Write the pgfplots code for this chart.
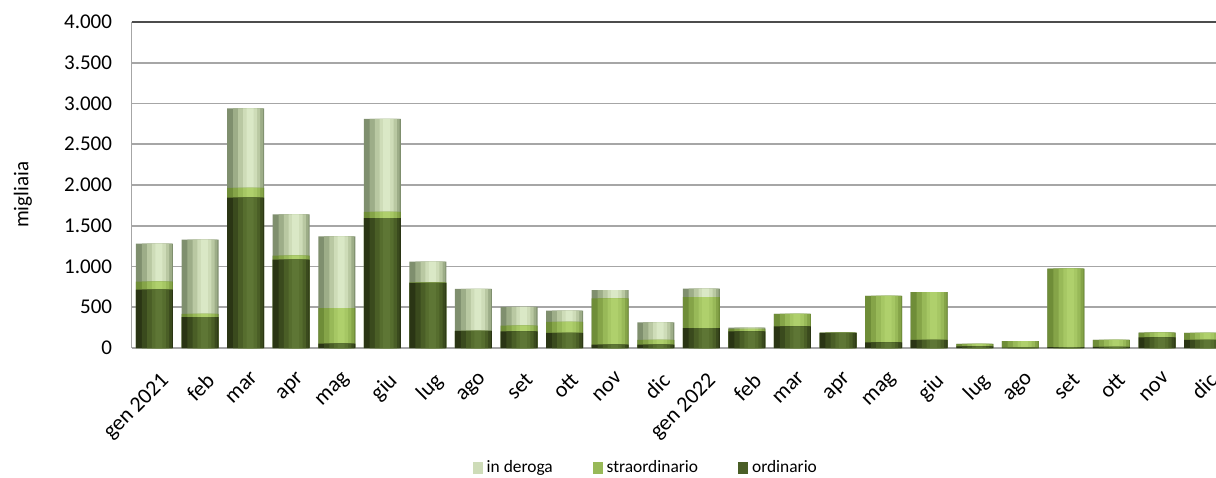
\documentclass[border=0pt]{standalone}
\usepackage{pgfplots}
\pgfplotsset{compat=1.18}
\usepackage{pgfplotstable}
\usepackage{fontspec}
\setmainfont{Carlito}
\definecolor{oA}{HTML}{2A3514}
\definecolor{oB}{HTML}{3A4A1D}
\definecolor{oC}{HTML}{4A5E26}
\definecolor{oD}{HTML}{566D2E}
\definecolor{oE}{HTML}{5E7635}
\definecolor{sA}{HTML}{6F8D38}
\definecolor{sB}{HTML}{85A448}
\definecolor{sC}{HTML}{98B958}
\definecolor{sD}{HTML}{A6C764}
\definecolor{sE}{HTML}{AFD06C}
\definecolor{dA}{HTML}{7F8F6E}
\definecolor{dB}{HTML}{9DAD88}
\definecolor{dC}{HTML}{B9C8A2}
\definecolor{dD}{HTML}{CEDCB8}
\definecolor{dE}{HTML}{DAE8C6}
\definecolor{gridgray}{HTML}{A6A6A6}
\pgfplotstableread{
idx ord str der
0 715 100 465
1 380 40 910
2 1845 120 975
3 1085 50 505
4 55 435 880
5 1595 75 1140
6 800 5 255
7 210 0 515
8 205 70 230
9 185 135 140
10 40 570 100
11 40 60 215
12 245 380 105
13 205 30 15
14 265 155 0
15 185 3 0
16 70 570 0
17 100 585 0
18 20 30 0
19 5 80 0
20 10 965 0
21 15 85 0
22 130 60 0
23 100 85 0
}\datatable
\begin{document}
\begin{tikzpicture}
\path[use as bounding box] (-65.85pt,-64.5pt) rectangle (542.15pt,174pt);
\begin{axis}[
  scale only axis,
  width=546.85pt, height=163pt,
  xmin=-0.5, xmax=23.5, ymin=0, ymax=4000,
  enlarge x limits=false,
  xtick={0,...,23},
  xticklabels={gen 2021,feb,mar,apr,mag,giu,lug,ago,set,ott,nov,dic,gen 2022,feb,mar,apr,mag,giu,lug,ago,set,ott,nov,dic},
  ytick={0,500,...,4000},
  scaled y ticks=false,
  /pgf/number format/1000 sep={.},
  /pgf/number format/assume math mode=true,
  yticklabel style={xshift=-6.3pt, font=\fontsize{10.5}{12}\selectfont},
  xticklabel style={xshift=2.5pt, yshift=-10pt, rotate=45, anchor=north east, inner sep=1pt, font=\fontsize{11}{12}\selectfont},
  major tick length=0pt,
  axis x line*=bottom, axis y line*=left,
  axis line style={draw=gridgray, line width=0.8pt},
  ymajorgrids, grid style={draw=gridgray, line width=0.8pt},
  extra y ticks={4000}, extra y tick labels={},
  extra y tick style={grid style={draw=black!70, line width=1.1pt}},
  every axis y label/.style={at={(axis description cs:-0.0995,0.47)}, rotate=90, anchor=center, font=\fontsize{10.5}{12}\selectfont},
  ylabel={migliaia},
  legend style={at={(axis description cs:0.471,-0.368)}, anchor=center, draw=none, legend columns=-1, font=\fontsize{8.7}{10}\selectfont, /tikz/every even column/.append style={column sep=18pt}},
  legend image code/.code={\path[#1, draw=none] (0pt,-2.8pt) rectangle (5pt,2.8pt);},
  every axis plot/.append style={draw=none, forget plot},
]
% in deroga layer (total height)
\addplot[ybar, bar width=18.5pt, bar shift=0pt, fill=dA] table[x=idx, y expr=\thisrow{ord}+\thisrow{str}+\thisrow{der}] {\datatable};
\addplot[ybar, bar width=15pt, bar shift=1.2pt, fill=dB] table[x=idx, y expr=\thisrow{ord}+\thisrow{str}+\thisrow{der}] {\datatable};
\addplot[ybar, bar width=11pt, bar shift=1.8pt, fill=dC] table[x=idx, y expr=\thisrow{ord}+\thisrow{str}+\thisrow{der}] {\datatable};
\addplot[ybar, bar width=7pt, bar shift=2.2pt, fill=dD] table[x=idx, y expr=\thisrow{ord}+\thisrow{str}+\thisrow{der}] {\datatable};
\addplot[ybar, bar width=3.5pt, bar shift=2.2pt, fill=dE] table[x=idx, y expr=\thisrow{ord}+\thisrow{str}+\thisrow{der}] {\datatable};
% straordinario layer
\addplot[ybar, bar width=18.5pt, bar shift=0pt, fill=sA] table[x=idx, y expr=\thisrow{ord}+\thisrow{str}] {\datatable};
\addplot[ybar, bar width=15pt, bar shift=1.2pt, fill=sB] table[x=idx, y expr=\thisrow{ord}+\thisrow{str}] {\datatable};
\addplot[ybar, bar width=11pt, bar shift=1.8pt, fill=sC] table[x=idx, y expr=\thisrow{ord}+\thisrow{str}] {\datatable};
\addplot[ybar, bar width=7pt, bar shift=2.2pt, fill=sD] table[x=idx, y expr=\thisrow{ord}+\thisrow{str}] {\datatable};
\addplot[ybar, bar width=3.5pt, bar shift=2.2pt, fill=sE] table[x=idx, y expr=\thisrow{ord}+\thisrow{str}] {\datatable};
% ordinario layer
\addplot[ybar, bar width=18.5pt, bar shift=0pt, fill=oA] table[x=idx, y=ord] {\datatable};
\addplot[ybar, bar width=15pt, bar shift=1.2pt, fill=oB] table[x=idx, y=ord] {\datatable};
\addplot[ybar, bar width=11pt, bar shift=1.8pt, fill=oC] table[x=idx, y=ord] {\datatable};
\addplot[ybar, bar width=7pt, bar shift=2.2pt, fill=oD] table[x=idx, y=ord] {\datatable};
\addplot[ybar, bar width=3.5pt, bar shift=2.2pt, fill=oE] table[x=idx, y=ord] {\datatable};
\addlegendimage{fill=dD, draw=none}
\addlegendentry{in deroga}
\addlegendimage{fill=sC, draw=none}
\addlegendentry{straordinario}
\addlegendimage{fill=oC, draw=none}
\addlegendentry{ordinario}
\end{axis}
\end{tikzpicture}
\end{document}
